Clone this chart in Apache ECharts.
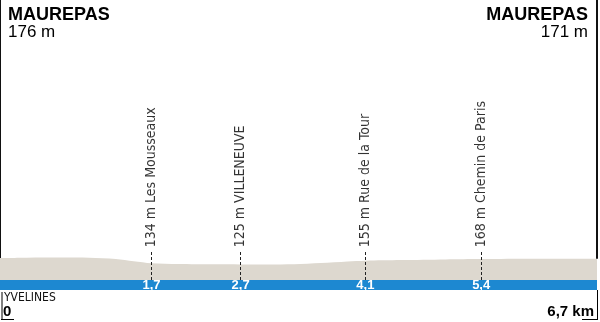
<!DOCTYPE html>
<html><head><meta charset="utf-8">
<script src="https://cdn.jsdelivr.net/npm/echarts@6/dist/echarts.min.js"></script>
<style>html,body{margin:0;padding:0;background:#fff}#c{width:600px;height:322px}</style>
</head><body><div id="c"></div>
<script>
// profile (km, elevation m)
var profileKm   = [0, 0.3, 0.7, 1.0, 1.3, 1.5, 1.7, 2.0, 2.4, 2.7, 3.0, 3.3, 3.6, 3.9, 4.1, 4.5, 5.0, 5.4, 6.0, 6.7];
var profileElev = [176, 179, 180, 178, 168, 150, 134, 128, 126, 125, 125, 127, 136, 149, 155, 160, 165, 168, 170, 171];
// intermediate points
var markerKm    = [1.7, 2.7, 4.1, 5.4];
var markerKmTxt = ['1,7', '2,7', '4,1', '5,4'];
var markerText  = ['134 m Les Mousseaux', '125 m VILLENEUVE', '155 m Rue de la Tour', '168 m Chemin de Paris'];
// start / finish
var startName = 'MAUREPAS', startElev = '176 m';
var finishName = 'MAUREPAS', finishElev = '171 m';
var region = 'YVELINES';
var tickValues = [0, 6.7];
var tickLabels = ['0', '6,7 km'];

var FONT = '"Liberation Sans", Arial, sans-serif';
var NARROW = '"Liberation Sans Narrow", "DejaVu Sans Condensed", "Liberation Sans", sans-serif';
var TOP = 2240;

var chart = echarts.init(document.getElementById('c'), null, {renderer: 'canvas'});
var profile = profileKm.map(function (k, i) { return [k, profileElev[i]]; });

chart.setOption({
  animation: false,
  backgroundColor: '#fff',
  grid: {left: 0, right: 3, top: 0, bottom: 32},
  xAxis: {
    type: 'value', min: 0, max: 6.7,
    axisLine: {show: false}, axisTick: {show: false}, splitLine: {show: false},
    axisLabel: {
      customValues: tickValues,
      formatter: function (v) { var i = tickValues.indexOf(v); return i >= 0 ? tickLabels[i] : ''; },
      alignMinLabel: 'left', alignMaxLabel: 'right',
      margin: 14, fontFamily: FONT, fontWeight: 'bold', fontSize: 15, color: '#000',
      padding: [0, 3, 0, 3]
    }
  },
  yAxis: {type: 'value', min: -80, max: TOP, show: false},
  graphic: [
    {type: 'text', left: 8, top: 6, style: {text: startName, fontFamily: FONT, fontWeight: 'bold', fontSize: 18, fill: '#000'}},
    {type: 'text', left: 8, top: 24, style: {text: startElev, fontFamily: FONT, fontSize: 17, fill: '#000'}},
    {type: 'text', right: 12, top: 6, style: {text: finishName, fontFamily: FONT, fontWeight: 'bold', fontSize: 18, fill: '#000'}},
    {type: 'text', right: 12, top: 24, style: {text: finishElev, fontFamily: FONT, fontSize: 17, fill: '#000'}},
    {type: 'text', left: 4, top: 292, style: {text: region, fontFamily: NARROW, fontSize: 12, fill: '#111'}},
    {type: 'line', shape: {x1: 2, y1: 292, x2: 2, y2: 320}, style: {stroke: '#000', lineWidth: 1}},
    {type: 'line', shape: {x1: 1, y1: 319.5, x2: 14, y2: 319.5}, style: {stroke: '#000', lineWidth: 1}},
    {type: 'line', shape: {x1: 597.5, y1: 290, x2: 597.5, y2: 320}, style: {stroke: '#000', lineWidth: 1}},
    {type: 'line', shape: {x1: 582, y1: 319.5, x2: 598, y2: 319.5}, style: {stroke: '#000', lineWidth: 1}}
  ],
  series: [
    {
      type: 'line', data: profile, symbol: 'none', smooth: 0.3,
      lineStyle: {width: 0}, areaStyle: {color: '#ddd8cf', opacity: 1},
      markArea: {
        silent: true,
        itemStyle: {color: '#1d88d1', opacity: 1},
        data: [[{coord: [0, -86]}, {coord: [6.7, 0]}]]
      },
      markLine: {
        silent: true, symbol: 'none', label: {show: false},
        data: [
          [{coord: [0, profileElev[0]], lineStyle: {type: 'solid', width: 2, color: '#111'}}, {coord: [0, TOP]}],
          [{coord: [6.7, profileElev[profileElev.length - 1]], lineStyle: {type: 'solid', width: 2, color: '#111'}}, {coord: [6.7, TOP]}]
        ].concat(markerKm.map(function (k) {
          return [{coord: [k, 0], lineStyle: {type: [3, 2], width: 1, color: '#222'}}, {coord: [k, 230]}];
        }))
      },
      markPoint: {
        silent: true, symbol: 'circle', symbolSize: 1,
        itemStyle: {color: 'rgba(0,0,0,0)'},
        label: {
          show: true, position: 'inside', color: '#ffffff',
          fontFamily: FONT, fontWeight: 'bold', fontSize: 13,
          formatter: function (p) { return p.name; }
        },
        data: markerKm.map(function (k, i) { return {coord: [k, -42], name: markerKmTxt[i], value: k}; })
      }
    },
    {
      type: 'scatter', symbolSize: 0, silent: true, clip: false, zlevel: 1,
      data: markerKm.map(function (k, i) { return {value: [k, 262], name: markerText[i]}; }),
      label: {
        show: true, position: 'inside', rotate: 90, align: 'left', verticalAlign: 'middle',
        formatter: function (p) { return p.name; },
        fontFamily: NARROW, fontSize: 14, color: '#000'
      }
    }
  ]
});
</script></body></html>
